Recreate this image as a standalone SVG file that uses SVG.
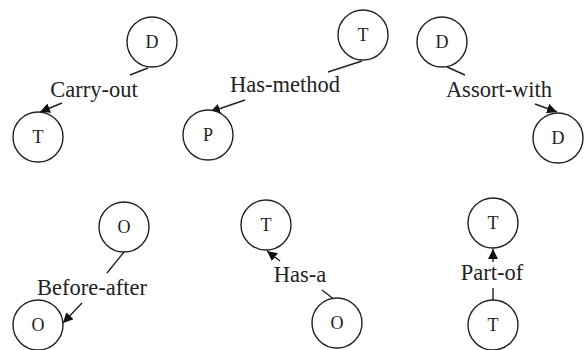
<svg xmlns="http://www.w3.org/2000/svg" width="585" height="350" viewBox="0 0 585 350">
<style>
.n circle{fill:#fff;stroke:#222;stroke-width:1.4}
.n text{font-family:"Liberation Serif",serif;font-size:18px;fill:#222;text-anchor:middle}
.lbl{font-family:"Liberation Serif",serif;font-size:22.5px;fill:#222;text-anchor:middle}
#connectors line{stroke:#222;stroke-width:1.4}
.a{marker-end:url(#arr)}
</style>
<defs>
<marker id="arr" markerUnits="userSpaceOnUse" markerWidth="10" markerHeight="10" viewBox="0 0 10 10" refX="10" refY="5" orient="auto">
<path d="M0,0 L10,5 L0,10 z" fill="#111"/>
</marker>
</defs>
<rect width="585" height="350" fill="#fff"/>
<g id="connectors">
<line x1="148" y1="68" x2="130" y2="75"/>
<line class="a" x1="62" y1="103" x2="40" y2="112"/>
<line x1="362" y1="61" x2="328" y2="72"/>
<line class="a" x1="245" y1="100" x2="210" y2="112"/>
<line x1="447" y1="67" x2="465" y2="75"/>
<line class="a" x1="535" y1="104" x2="557" y2="112"/>
<line x1="124" y1="252" x2="107" y2="273"/>
<line class="a" x1="82" y1="303" x2="63" y2="323"/>
<line x1="335" y1="300" x2="322" y2="290"/>
<line class="a" x1="280" y1="261" x2="267" y2="251"/>
<line x1="493" y1="300" x2="493" y2="288"/>
<line class="a" x1="493" y1="262" x2="493" y2="249"/>
<text class="lbl" x="94" y="97">Carry-out</text>
<text class="lbl" x="285" y="92">Has-method</text>
<text class="lbl" x="499" y="97">Assort-with</text>
<text class="lbl" x="92" y="295">Before-after</text>
<text class="lbl" x="300" y="282">Has-a</text>
<text class="lbl" x="492" y="280">Part-of</text>
</g>
<g id="n1" class="n"><circle cx="152" cy="42" r="25"/><text x="152" y="48">D</text></g>
<g id="n2" class="n"><circle cx="38" cy="137" r="25"/><text x="38" y="143">T</text></g>
<g id="n3" class="n"><circle cx="363" cy="35" r="25"/><text x="363" y="41">T</text></g>
<g id="n4" class="n"><circle cx="208" cy="135" r="25"/><text x="208" y="141">P</text></g>
<g id="n5" class="n"><circle cx="442" cy="42" r="25"/><text x="442" y="48">D</text></g>
<g id="n6" class="n"><circle cx="558" cy="138" r="25"/><text x="558" y="144">D</text></g>
<g id="n7" class="n"><circle cx="124" cy="227" r="25"/><text x="124" y="233">O</text></g>
<g id="n8" class="n"><circle cx="38" cy="325" r="25"/><text x="38" y="331">O</text></g>
<g id="n9" class="n"><circle cx="266" cy="225" r="25"/><text x="266" y="231">T</text></g>
<g id="n10" class="n"><circle cx="337" cy="323" r="25"/><text x="337" y="329">O</text></g>
<g id="n11" class="n"><circle cx="493" cy="223" r="25"/><text x="493" y="229">T</text></g>
<g id="n12" class="n"><circle cx="493" cy="325" r="25"/><text x="493" y="331">T</text></g>
</svg>
